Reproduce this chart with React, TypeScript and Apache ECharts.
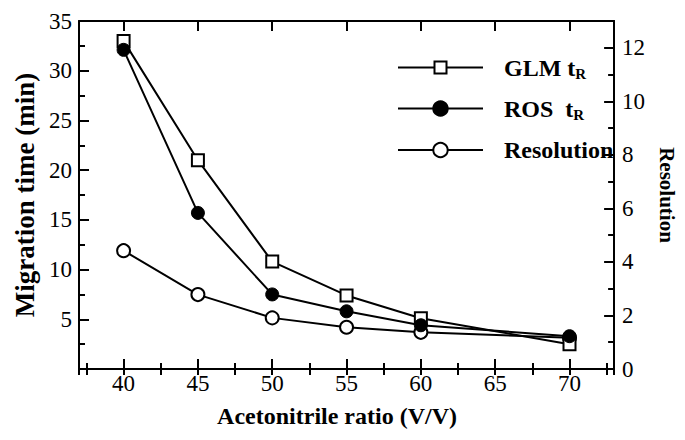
import React, { useEffect, useRef } from "react";
import * as echarts from "echarts";

// ---- data ----
const ratios = [40, 45, 50, 55, 60, 70];
const glmTime = [33.0, 21.0, 10.8, 7.4, 5.1, 2.5];
const rosTime = [32.1, 15.7, 7.5, 5.8, 4.4, 3.3];
const resolution = [4.42, 2.78, 1.91, 1.56, 1.37, 1.17];

const seriesNames = ["GLM", "ROS", "Resolution"];
const legendLabels: Record<string, string> = {
  GLM: "{g|}{m|GLM t}{s|R}",
  ROS: "{g|}{m|ROS  t}{s|R}",
  Resolution: "{g|}{m|Resolution}",
};

const xName = "Acetonitrile ratio (V/V)";
const yLeftName = "Migration time (min)";
const yRightName = "Resolution";

const X_MIN = 37;
const X_MAX = 73;
const YL_MAX = 35;
const YR_MAX = 13;

const FONT = "Liberation Serif";
const BLACK = "#000";

export default function App() {
  const ref = useRef<HTMLDivElement>(null);

  useEffect(() => {
    if (!ref.current) return;
    const chart = echarts.init(ref.current, undefined, { renderer: "svg" });

    const lineAxis = { show: true, onZero: false, lineStyle: { color: BLACK, width: 2 } };
    const majorTick = { show: true, inside: true, length: 10, lineStyle: { color: BLACK, width: 2 } };
    const minorTickAx = { show: true, inside: true, length: 6, lineStyle: { color: BLACK, width: 2 } };
    const labelStyle = { color: BLACK, fontFamily: FONT, fontSize: 23 };

    const xBase = { type: "value" as const, min: X_MIN, max: X_MAX, splitLine: { show: false } };

    const rich = {
      g: { width: 16 },
      m: { fontSize: 24, fontWeight: "bold", fontFamily: FONT, color: BLACK, lineHeight: 24, verticalAlign: "top" },
      s: {
        fontSize: 15,
        fontWeight: "bold",
        fontFamily: FONT,
        color: BLACK,
        lineHeight: 15,
        verticalAlign: "top",
        padding: [11, 0, 0, 0],
      },
    };

    const legendTops = [55.5, 96.5, 138];
    const legendItemH = [15, 18, 18];

    const option: any = {
      animation: false,
      textStyle: { fontFamily: FONT },
      grid: { left: 79, right: 63, top: 21, bottom: 71, containLabel: false },
      legend: seriesNames.map((n, i) => ({
        data: [n],
        left: 397,
        top: legendTops[i],
        padding: 0,
        orient: "vertical",
        itemWidth: 85,
        itemHeight: legendItemH[i],
        selectedMode: false,
        formatter: (name: string) => legendLabels[name],
        textStyle: { color: BLACK, fontFamily: FONT, fontSize: 24, fontWeight: "bold", rich },
      })),
      xAxis: [
        {
          ...xBase,
          position: "bottom",
          minInterval: 5,
          maxInterval: 5,
          splitNumber: 7,
          axisLine: lineAxis,
          axisTick: majorTick,
          axisLabel: { ...labelStyle, margin: 3, showMinLabel: false, showMaxLabel: false },
          name: xName,
          nameLocation: "middle",
          nameGap: 35,
          nameTextStyle: { color: BLACK, fontFamily: FONT, fontSize: 24, fontWeight: "bold", padding: [0, 19, 0, 0] },
        },
        {
          ...xBase,
          position: "bottom",
          minInterval: 2.5,
          maxInterval: 2.5,
          splitNumber: 14,
          axisLine: { show: false },
          axisTick: minorTickAx,
          axisLabel: { show: false },
        },
        {
          ...xBase,
          position: "top",
          minInterval: 5,
          maxInterval: 5,
          splitNumber: 7,
          axisLine: lineAxis,
          axisTick: majorTick,
          axisLabel: { show: false },
        },
        {
          ...xBase,
          position: "top",
          minInterval: 2.5,
          maxInterval: 2.5,
          splitNumber: 14,
          axisLine: { show: false },
          axisTick: minorTickAx,
          axisLabel: { show: false },
        },
      ],
      yAxis: [
        {
          type: "value",
          position: "left",
          min: 0,
          max: YL_MAX,
          interval: 5,
          axisLine: lineAxis,
          axisTick: majorTick,
          minorTick: { show: true, splitNumber: 2, length: 6, lineStyle: { color: BLACK, width: 2 } },
          splitLine: { show: false },
          minorSplitLine: { show: false },
          axisLabel: { ...labelStyle, margin: 7, showMinLabel: false },
          name: yLeftName,
          nameLocation: "middle",
          nameGap: 37,
          nameTextStyle: { color: BLACK, fontFamily: FONT, fontSize: 27, fontWeight: "bold" },
        },
        {
          type: "value",
          position: "right",
          min: 0,
          max: YR_MAX,
          interval: 2,
          axisLine: lineAxis,
          axisTick: majorTick,
          splitLine: { show: false },
          axisLabel: { ...labelStyle, margin: 8, showMaxLabel: false },
          name: yRightName,
          nameLocation: "middle",
          nameRotate: -90,
          nameGap: 34,
          nameTextStyle: { color: BLACK, fontFamily: FONT, fontSize: 21, fontWeight: "bold" },
        },
        {
          type: "value",
          position: "right",
          min: 0,
          max: YR_MAX,
          interval: 1,
          axisLine: { show: false },
          axisTick: minorTickAx,
          splitLine: { show: false },
          axisLabel: { show: false },
        },
      ],
      series: [
        {
          name: "GLM",
          type: "line",
          xAxisIndex: 0,
          yAxisIndex: 0,
          data: ratios.map((x, i) => [x, glmTime[i]]),
          symbol: "rect",
          symbolSize: 12,
          itemStyle: { color: "#fff", borderColor: BLACK, borderWidth: 2 },
          lineStyle: { color: BLACK, width: 2 },
          silent: true,
          z: 3,
        },
        {
          name: "ROS",
          type: "line",
          xAxisIndex: 0,
          yAxisIndex: 0,
          data: ratios.map((x, i) => [x, rosTime[i]]),
          symbol: "circle",
          symbolSize: 13,
          itemStyle: { color: BLACK, borderColor: BLACK, borderWidth: 1 },
          lineStyle: { color: BLACK, width: 2 },
          silent: true,
          z: 4,
        },
        {
          name: "Resolution",
          type: "line",
          xAxisIndex: 0,
          yAxisIndex: 1,
          data: ratios.map((x, i) => [x, resolution[i]]),
          symbol: "circle",
          symbolSize: 13,
          itemStyle: { color: "#fff", borderColor: BLACK, borderWidth: 2 },
          lineStyle: { color: BLACK, width: 2 },
          silent: true,
          z: 2,
        },
      ],
    };

    chart.setOption(option);
    return () => chart.dispose();
  }, []);

  return (
    <div
      ref={ref}
      style={{ position: "absolute", left: 0, top: 0, width: 685, height: 440, background: "#fff" }}
    />
  );
}
